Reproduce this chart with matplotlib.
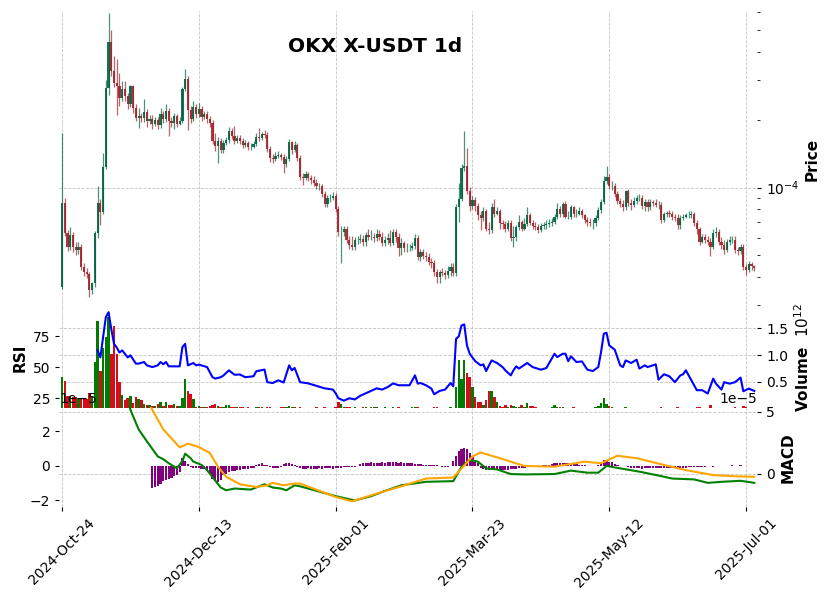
import numpy as np
import matplotlib
matplotlib.use("Agg")
import matplotlib.pyplot as plt
from matplotlib.ticker import NullFormatter, FormatStrFormatter

# OKX X-USDT daily candles, prices in units of 1e-5 USDT, volume in units of 1e12
first_open = 3.61
closes = [
    8.58, 6.26, 5.43, 6.13, 5.43, 5.27, 5.43, 4.43, 4.21, 4.13,
    3.50, 3.76, 6.26, 8.58, 7.83, 12.38, 27.72, 44.31, 32.97, 29.17,
    28.29, 25.04, 27.44, 25.55, 23.55, 28.29, 22.61, 20.42, 20.84, 20.42,
    21.71, 19.80, 20.21, 19.20, 20.00, 19.01, 21.27, 20.21, 21.93, 19.80,
    19.40, 20.84, 19.20, 19.80, 27.44, 30.38, 22.15, 20.21, 22.84, 21.27,
    22.38, 20.63, 21.27, 20.21, 19.40, 16.15, 15.35, 16.15, 14.73, 15.82,
    16.31, 17.88, 16.99, 16.15, 16.65, 16.15, 15.50, 15.82, 15.19, 15.19,
    15.66, 16.82, 16.65, 17.34, 17.17, 14.88, 13.58, 13.44, 13.86, 14.00,
    13.72, 12.77, 13.44, 15.98, 14.73, 15.50, 13.58, 11.18, 11.07, 11.53,
    11.07, 10.85, 10.52, 10.20, 10.20, 9.41, 8.49, 9.03, 9.03, 9.22,
    8.07, 6.32, 6.32, 6.58, 5.83, 5.54, 5.43, 5.83, 5.83, 5.89,
    5.71, 6.13, 6.01, 6.01, 5.95, 6.20, 6.01, 5.65, 5.83, 5.95,
    5.65, 6.32, 6.01, 5.37, 5.65, 5.37, 5.37, 5.37, 5.48, 5.95,
    4.90, 5.16, 4.95, 4.90, 4.66, 4.61, 4.21, 4.00, 4.21, 4.17,
    4.09, 4.26, 4.43, 4.17, 8.16, 8.94, 12.26, 12.51, 9.70, 8.32,
    8.85, 8.32, 7.52, 7.29, 7.91, 6.58, 6.45, 8.24, 7.67, 7.91,
    6.93, 6.86, 6.58, 6.93, 5.95, 6.01, 6.65, 7.00, 6.58, 6.86,
    7.52, 6.93, 6.72, 6.65, 6.45, 6.72, 6.79, 6.86, 6.93, 7.00,
    7.44, 8.07, 7.60, 8.49, 7.44, 7.44, 8.16, 7.67, 7.67, 7.91,
    7.52, 7.15, 7.00, 6.93, 6.93, 7.29, 7.99, 8.67, 10.74, 11.18,
    10.20, 10.20, 9.41, 8.76, 8.49, 8.16, 9.70, 8.58, 8.41, 8.76,
    9.03, 9.03, 8.32, 8.67, 8.16, 8.67, 8.58, 8.41, 8.41, 7.15,
    7.67, 7.75, 7.67, 7.37, 7.29, 6.79, 7.29, 7.44, 7.52, 7.52,
    7.67, 6.93, 6.52, 5.71, 6.01, 5.83, 5.71, 5.43, 6.26, 6.32,
    5.71, 5.54, 5.27, 5.71, 5.83, 5.83, 5.27, 5.21, 5.43, 4.43,
    4.30, 4.57, 4.48, 4.39,
]
highs = [
    17.52, 9.03, 6.45, 6.65, 6.32, 5.71, 5.71, 5.60, 4.61, 4.39,
    4.21, 3.80, 6.39, 10.20, 8.94, 14.29, 30.07, 59.58, 50.09, 38.45,
    37.27, 32.31, 29.77, 29.77, 26.35, 28.58, 28.58, 23.55, 22.61, 21.49,
    24.78, 22.38, 21.05, 21.05, 20.63, 20.63, 22.61, 21.93, 23.55, 22.61,
    20.63, 21.49, 21.27, 20.63, 28.00, 33.65, 31.33, 23.07, 24.28, 23.55,
    23.79, 23.07, 21.93, 21.93, 20.84, 20.00, 17.52, 16.82, 16.65, 16.31,
    16.82, 18.62, 18.44, 18.81, 17.17, 17.17, 16.65, 16.31, 16.15, 15.82,
    16.15, 17.52, 18.44, 17.70, 18.06, 17.70, 15.35, 14.14, 14.44, 14.58,
    14.29, 14.14, 13.86, 16.48, 16.15, 16.15, 15.82, 14.00, 11.65, 11.89,
    11.77, 11.41, 11.30, 10.96, 10.52, 10.41, 9.70, 9.31, 9.41, 9.60,
    9.50, 8.32, 6.72, 6.72, 6.72, 6.07, 6.07, 6.01, 6.07, 6.20,
    6.13, 6.32, 6.58, 6.45, 6.26, 6.52, 6.45, 6.32, 6.07, 6.26,
    6.45, 6.58, 6.52, 6.26, 5.95, 5.77, 5.65, 5.60, 5.71, 6.20,
    6.13, 5.32, 5.32, 5.16, 5.11, 4.85, 4.76, 4.34, 4.30, 4.39,
    4.30, 4.48, 4.61, 4.61, 8.49, 10.52, 12.77, 17.88, 15.04, 10.10,
    9.22, 9.12, 8.58, 7.91, 8.16, 8.07, 7.00, 8.58, 8.94, 8.24,
    8.07, 7.15, 7.07, 7.15, 7.15, 6.72, 6.79, 7.52, 7.15, 7.29,
    8.16, 7.75, 7.15, 7.00, 6.86, 6.93, 7.00, 7.15, 7.22, 7.29,
    7.67, 8.58, 8.32, 8.67, 8.76, 7.91, 8.41, 8.32, 8.07, 8.16,
    8.07, 7.67, 7.44, 7.29, 7.22, 7.52, 8.24, 8.94, 11.30, 12.51,
    11.53, 10.74, 10.52, 9.70, 9.03, 8.85, 9.80, 9.90, 8.94, 9.12,
    9.31, 9.41, 9.31, 8.94, 8.94, 8.94, 8.85, 8.94, 8.76, 8.67,
    7.83, 7.91, 7.99, 7.91, 7.67, 7.60, 7.52, 7.67, 7.75, 7.91,
    7.91, 7.83, 7.15, 6.65, 6.20, 6.20, 6.07, 5.95, 6.52, 6.65,
    6.52, 6.01, 5.83, 5.89, 6.07, 6.07, 6.07, 5.43, 5.60, 5.60,
    4.57, 4.71, 4.66, 4.52,
]
lows = [
    3.54, 6.07, 5.21, 5.27, 5.16, 5.01, 5.06, 4.30, 4.04, 3.96,
    3.26, 3.36, 3.61, 5.95, 6.79, 7.60, 12.13, 25.81, 31.33, 28.00,
    21.05, 23.07, 24.28, 24.28, 22.38, 22.84, 21.49, 19.80, 18.44, 19.60,
    19.60, 18.62, 19.20, 18.25, 18.81, 18.25, 18.44, 19.40, 19.60, 16.99,
    18.62, 18.25, 18.62, 19.01, 19.40, 26.89, 18.06, 19.40, 19.80, 20.42,
    20.63, 19.80, 20.21, 19.40, 18.62, 15.66, 14.58, 12.90, 14.29, 14.29,
    15.50, 15.82, 16.48, 15.66, 15.82, 15.66, 15.04, 15.19, 14.73, 14.73,
    15.04, 15.35, 16.15, 16.31, 16.65, 14.44, 13.03, 12.90, 13.16, 13.58,
    13.30, 11.65, 12.38, 13.16, 14.14, 14.44, 13.16, 10.85, 10.31, 10.85,
    10.74, 10.41, 10.20, 9.90, 9.80, 9.12, 8.24, 8.24, 8.67, 8.85,
    7.83, 6.07, 4.61, 6.07, 5.65, 5.32, 5.27, 5.27, 5.60, 5.65,
    5.48, 5.48, 5.83, 5.83, 5.71, 5.77, 5.83, 5.48, 5.48, 5.60,
    5.48, 5.54, 5.71, 4.95, 5.01, 5.16, 5.16, 5.21, 5.27, 5.32,
    4.76, 4.71, 4.81, 4.71, 4.52, 4.39, 4.04, 3.76, 3.76, 4.04,
    3.92, 3.96, 4.04, 4.04, 4.04, 7.00, 8.76, 11.89, 9.41, 7.91,
    8.07, 7.91, 7.15, 6.45, 7.07, 6.39, 6.20, 6.26, 7.44, 7.52,
    6.58, 6.52, 6.32, 6.39, 5.77, 5.43, 5.77, 6.45, 6.39, 6.45,
    6.72, 6.79, 6.52, 6.45, 6.26, 6.32, 6.52, 6.58, 6.65, 6.72,
    6.86, 7.22, 7.37, 7.44, 7.29, 7.22, 7.22, 7.44, 7.44, 7.52,
    7.29, 6.93, 6.72, 6.72, 6.58, 6.72, 7.15, 7.75, 8.49, 10.41,
    9.90, 9.80, 9.12, 8.49, 8.16, 7.91, 7.99, 8.32, 7.99, 8.16,
    8.49, 8.76, 8.07, 7.91, 7.91, 7.99, 8.32, 8.16, 8.07, 6.93,
    7.00, 7.44, 7.44, 7.15, 7.07, 6.58, 6.58, 7.15, 7.29, 7.29,
    7.29, 6.72, 6.20, 5.54, 5.65, 5.65, 5.54, 4.95, 5.32, 6.01,
    5.54, 5.32, 5.06, 5.16, 5.54, 5.65, 5.11, 5.01, 5.06, 4.30,
    4.09, 4.21, 4.30, 4.26,
]
volumes = [
    0.58, 0.52, 0.23, 0.23, 0.21, 0.22, 0.20, 0.17, 0.20, 0.17,
    0.29, 0.23, 0.87, 1.63, 0.71, 1.13, 1.33, 1.71, 1.02, 1.54,
    1.02, 0.50, 0.25, 0.15, 0.20, 0.24, 0.10, 0.22, 0.17, 0.16,
    0.08, 0.06, 0.06, 0.05, 0.05, 0.08, 0.12, 0.05, 0.12, 0.06,
    0.06, 0.08, 0.05, 0.05, 0.20, 0.56, 0.33, 0.27, 0.17, 0.03,
    0.04, 0.03, 0.03, 0.03, 0.04, 0.06, 0.08, 0.04, 0.03, 0.03,
    0.06, 0.07, 0.03, 0.02, 0.02, 0.02, 0.02, 0.01, 0.02, 0.01,
    0.01, 0.02, 0.03, 0.02, 0.01, 0.02, 0.02, 0.01, 0.01, 0.01,
    0.02, 0.03, 0.02, 0.05, 0.03, 0.02, 0.01, 0.02, 0.01, 0.01,
    0.01, 0.01, 0.01, 0.02, 0.01, 0.01, 0.02, 0.01, 0.01, 0.01,
    0.03, 0.12, 0.08, 0.03, 0.02, 0.02, 0.01, 0.02, 0.01, 0.01,
    0.02, 0.03, 0.01, 0.02, 0.03, 0.02, 0.01, 0.01, 0.02, 0.01,
    0.01, 0.03, 0.01, 0.02, 0.01, 0.01, 0.01, 0.01, 0.02, 0.03,
    0.02, 0.01, 0.01, 0.01, 0.01, 0.01, 0.02, 0.02, 0.01, 0.01,
    0.01, 0.01, 0.02, 0.01, 0.40, 0.90, 0.56, 0.90, 0.67, 0.58,
    0.40, 0.21, 0.12, 0.12, 0.06, 0.15, 0.33, 0.33, 0.21, 0.12,
    0.04, 0.02, 0.06, 0.02, 0.06, 0.04, 0.02, 0.02, 0.06, 0.02,
    0.10, 0.05, 0.04, 0.02, 0.01, 0.01, 0.01, 0.01, 0.01, 0.02,
    0.06, 0.02, 0.03, 0.02, 0.01, 0.01, 0.01, 0.02, 0.01, 0.01,
    0.01, 0.01, 0.01, 0.01, 0.01, 0.02, 0.04, 0.11, 0.20, 0.08,
    0.04, 0.02, 0.01, 0.01, 0.01, 0.01, 0.03, 0.01, 0.01, 0.01,
    0.01, 0.01, 0.01, 0.01, 0.01, 0.01, 0.01, 0.01, 0.01, 0.02,
    0.01, 0.01, 0.01, 0.01, 0.01, 0.02, 0.01, 0.01, 0.01, 0.01,
    0.01, 0.01, 0.02, 0.02, 0.01, 0.01, 0.01, 0.06, 0.01, 0.01,
    0.01, 0.01, 0.01, 0.01, 0.01, 0.01, 0.02, 0.01, 0.01, 0.04,
    0.03, 0.01, 0.01, 0.01,
]

# RSI, index -> value
rsi_points = [
    (13, 63.7), (14, 58), (16, 90.6), (17, 94.6), (18, 81), (19, 69), (20, 66),
    (21, 62), (22, 63.7), (24, 58), (25, 59.7), (27, 53), (28, 53), (30, 54.3),
    (31, 51.6), (33, 50.2), (35, 51.6), (36, 54.3), (37, 52.5), (38, 54.3),
    (39, 50.8), (43, 50.8), (44, 66.4), (45, 69), (46, 51.6), (48, 53.5),
    (49, 51.6), (50, 52.2), (53, 50.2), (55, 42), (56, 40.9), (58, 42),
    (59, 43.4), (61, 47.6), (63, 44), (65, 44.2), (67, 42), (70, 42.8),
    (71, 46.8), (74, 48.2), (75, 38), (77, 37.3), (79, 39.5), (81, 37.7),
    (83, 51.6), (84, 47.6), (85, 49.5), (87, 38), (90, 37), (93, 35), (96, 33),
    (99, 32), (100, 29), (101, 25), (103, 23), (105, 25), (107, 24), (109, 27),
    (111, 29), (113, 31), (115, 33), (117, 32), (119, 34), (121, 37), (123, 35.5),
    (127, 35.5), (129, 43.5), (130, 36.8), (131, 37.3), (133, 35.5), (135, 32.8),
    (136, 28.2), (138, 30.9), (140, 32), (142, 37.3), (143, 34.7), (144, 73),
    (145, 75), (146, 83.9), (147, 84.7), (148, 67.7), (149, 61), (151, 55),
    (153, 51.6), (154, 52.4), (155, 47), (157, 55.6), (159, 53.5), (161, 50.2),
    (162, 47.6), (164, 43.5), (165, 47.6), (166, 50.8), (167, 49), (170, 53.5),
    (172, 50.2), (175, 48.1), (177, 49.4), (180, 61), (181, 58.3), (183, 61),
    (184, 61), (185, 55), (186, 58.9), (188, 54.3), (190, 54.8), (192, 48.1),
    (194, 47), (196, 50.2), (197, 62.3), (198, 77.1), (199, 78), (200, 67.7),
    (202, 64.3), (204, 51.6), (205, 50.2), (206, 55.6), (208, 53.5), (210, 56.2),
    (211, 49), (213, 51.6), (214, 50.2), (217, 52.4), (218, 40), (220, 44.4),
    (222, 42.7), (224, 38), (226, 43.5), (227, 44.4), (228, 47.6), (230, 39.5),
    (232, 31.5), (234, 31.5), (236, 28.8), (238, 40.9), (239, 36.8), (241, 32),
    (242, 38), (244, 36.8), (246, 38), (248, 41.7), (249, 30.6), (251, 32.8),
    (253, 30.9),
]

# MACD and signal lines (units of 1e-5)
macd_points = [
    (24, 3.9), (25, 3.25), (28, 2.12), (31, 1.43), (35, 0.55), (37, 0.39),
    (39, 0.16), (42, -0.14), (44, 0.3), (45, 0.71), (47, 0.45), (48, 0.25),
    (51, 0.06), (53, -0.24), (58, -1.25), (60, -1.41), (63, -1.31), (69, -1.37),
    (74, -1.06), (77, -1.25), (80, -1.31), (82, -1.41), (85, -1.12), (87, -1.18),
    (100, -1.75), (107, -2.0), (113, -1.75), (118, -1.45), (124, -1.12),
    (133, -0.92), (143, -0.88), (146, -0.04), (149, 0.35), (152, 0.25),
    (155, -0.14), (159, -0.2), (164, -0.47), (169, -0.49), (180, -0.47),
    (186, -0.27), (192, -0.39), (196, -0.39), (199, 0.0), (204, -0.14),
    (211, -0.33), (219, -0.59), (223, -0.73), (231, -0.78), (236, -0.98),
    (241, -0.92), (248, -0.86), (253, -0.98),
]
signal_points = [
    (32, 3.6), (33, 3.25), (37, 2.12), (43, 1.08), (46, 1.29), (50, 1.1),
    (54, 0.75), (57, -0.04), (60, -0.63), (65, -1.06), (71, -1.22), (75, -1.12),
    (77, -0.98), (81, -1.12), (85, -1.02), (87, -1.02), (100, -1.8), (106, -2.05),
    (115, -1.6), (124, -1.18), (133, -0.73), (143, -0.67), (150, 0.55),
    (153, 0.78), (160, 0.45), (169, 0.0), (180, -0.04), (191, 0.25), (197, 0.16),
    (203, 0.59), (210, 0.45), (220, 0.06), (228, -0.24), (238, -0.53),
    (245, -0.59), (253, -0.63),
]
hist_start = 33
hist = [
    -1.25, -1.22, -1.15, -1.02, -0.90, -0.82, -0.73, -0.68, -0.60, -0.53, -0.35,
    0.45, 0.30, 0.10,
    -0.05, -0.10, -0.10, -0.12, -0.15, -0.20, -0.30, -0.45,
    -0.73, -0.85, -0.92, -0.82, -0.53, -0.45, -0.35, -0.30, -0.28, -0.24, -0.22,
    -0.20, -0.18, -0.15, -0.14, -0.10,
    0.06, 0.10, 0.20, 0.06, 0.05,
    -0.05, -0.10, -0.14, -0.10, -0.05,
    0.10, 0.20, 0.20, 0.10, 0.05,
    -0.05,
    -0.12, -0.15, -0.15, -0.14, -0.15, -0.16, -0.15, -0.14, -0.15, -0.14, -0.13,
    -0.14, -0.15, -0.12,
    -0.10, -0.10, -0.08, -0.08, -0.06, -0.05, -0.04, 0.02,
    0.10, 0.15, 0.18, 0.20, 0.22, 0.20, 0.18, 0.20, 0.22, 0.20,
    0.22, 0.25, 0.24, 0.22, 0.20, 0.22, 0.20, 0.18, 0.16, 0.15,
    0.12, 0.10, 0.10, 0.08, 0.08, 0.06, 0.05, 0.05, 0.04,
    -0.03, -0.05, -0.05, -0.04, -0.03,
    0.30, 0.55, 0.86, 0.96, 1.04, 0.96, 0.73, 0.55, 0.35, 0.16,
    -0.10, -0.20, -0.24, -0.25, -0.24, -0.24, -0.25, -0.24, -0.22, -0.24, -0.23,
    -0.20, -0.18, -0.16,
    -0.14, -0.12, -0.10, -0.08, -0.05, -0.03, 0.02, -0.02, 0.02, 0.03, 0.05, 0.08,
    0.14, 0.16, 0.18, 0.20, 0.20, 0.18, 0.16, 0.14, 0.12, 0.10,
    0.06, 0.04, 0.03, 0.02, 0.02, 0.01, 0.02, 0.05,
    0.20, 0.35, 0.30, 0.25, 0.22, 0.12,
    0.04, 0.02, 0.0, -0.02, -0.05,
    -0.10, -0.12, -0.14, -0.14, -0.15, -0.14, -0.14, -0.13, -0.14, -0.14, -0.13,
    -0.12, -0.14, -0.13, -0.12, -0.12, -0.11, -0.10, -0.10, -0.10, -0.09, -0.08,
    -0.08, -0.07, -0.06,
    -0.05, -0.04, -0.04, -0.03, -0.03, -0.04, -0.03, -0.02,
    0.02, -0.02, 0.02, -0.02, 0.03, 0.02, -0.02, 0.03, -0.02, 0.02, -0.02, 0.02, 0.01,
]

tick_pos = [0, 50, 100, 150, 200, 250]
tick_labels = ['2024-Oct-24', '2024-Dec-13', '2025-Feb-01',
               '2025-Mar-23', '2025-May-12', '2025-Jul-01']

# ---- prepare ----
p = 1e-5
closes = np.array(closes) * p
highs = np.array(highs) * p
lows = np.array(lows) * p
opens = np.r_[first_open * p, closes[:-1]]
volumes = np.array(volumes)
n = len(closes)
x = np.arange(n)
up = closes >= opens

up_col, dn_col = '#006340', '#A02128'
vol_up, vol_dn = '#007a00', '#d50d18'
grid_kw = dict(linestyle='--', color='#c4c4c4', linewidth=0.6)

plt.rcParams['font.size'] = 10

fig = plt.figure(figsize=(8.31, 6.0), dpi=100)
L, W = 59.3 / 831, (757 - 59.3) / 831
def box(top, bot):
    return [L, 1 - bot / 600, W, (bot - top) / 600]

ax = fig.add_axes(box(11, 308))
axv = fig.add_axes(box(308, 407.5), sharex=ax)
axm = fig.add_axes(box(407.5, 507), sharex=ax)
axr = axv.twinx()
axm2 = axm.twinx()

# ---- candles ----
ax.set_yscale('log')
cols = np.where(up, up_col, dn_col)
ax.vlines(x, lows, highs, colors=cols, linewidth=0.9, alpha=0.7)
body_lo = np.minimum(opens, closes)
body_hi = np.maximum(opens, closes)
ax.bar(x, body_hi - body_lo, bottom=body_lo, width=0.8, color=cols, alpha=0.9, linewidth=0)
ax.set_ylim(2.92e-5, 6.08e-4)
ax.yaxis.tick_right()
ax.yaxis.set_label_position('right')
ax.yaxis.set_minor_formatter(NullFormatter())
ax.set_ylabel('Price', fontsize=11, fontweight='bold')
ax.grid(True, which='major', **grid_kw)
ax.set_axisbelow(True)

# ---- volume + RSI ----
axv.bar(x, volumes, width=0.9, color=np.where(up, vol_up, vol_dn), linewidth=0)
axv.set_ylim(0.018, 1.88)
axv.set_yticks([0.5, 1.0, 1.5])
axv.yaxis.set_major_formatter(FormatStrFormatter('%.1f'))
axv.yaxis.tick_right()
axv.yaxis.set_label_position('right')
axv.set_ylabel('Volume  $10^{12}$', fontsize=11, fontweight='bold')
axv.grid(True, **grid_kw)
axv.set_axisbelow(True)

ri, rv = zip(*rsi_points)
axr.plot(ri, rv, color='blue', linewidth=1.5)
axr.set_ylim(17.5, 98)
axr.set_yticks([25, 50, 75])
axr.yaxis.tick_left()
axr.yaxis.set_label_position('left')
axr.set_ylabel('RSI', fontsize=11, fontweight='bold')

# ---- MACD ----
axm.set_ylim(-2.66e-5, 5.36e-5)
axm.set_yticks([0, 5e-5])
axm.yaxis.tick_right()
axm.yaxis.set_label_position('right')
axm.yaxis.set_offset_position('right')
axm.set_ylabel('MACD', fontsize=11, fontweight='bold')
axm.grid(True, **grid_kw)
axm.set_axisbelow(True)

hx = np.arange(hist_start, hist_start + len(hist))
axm2.bar(hx, np.array(hist) * p, width=0.8, color='purple', linewidth=0)
mi, mv = zip(*macd_points)
si, sv = zip(*signal_points)
axm2.plot(mi, np.array(mv) * p, color='green', linewidth=1.5)
axm2.plot(si, np.array(sv) * p, color='orange', linewidth=1.5)
axm2.set_ylim(-2.38e-5, 3.39e-5)
axm2.set_yticks([-2e-5, 0, 2e-5])
axm2.yaxis.tick_left()
axm2.yaxis.set_offset_position('left')

# ---- shared x / cosmetics ----
ax.set_xlim(-1, n)
ax.set_xticks(tick_pos)
axm.set_xticklabels(tick_labels, rotation=45)
for a in (ax, axv):
    a.tick_params(axis='x', bottom=False, labelbottom=False)
for a in (ax, axv, axm, axr, axm2):
    for s in a.spines.values():
        s.set_visible(False)
    a.tick_params(length=3)

fig.text(375 / 831, 1 - 47 / 600, 'OKX X-USDT 1d', ha='center', va='center',
         fontsize=14.5, fontweight='bold')

fig.savefig('out.png', dpi=100)
